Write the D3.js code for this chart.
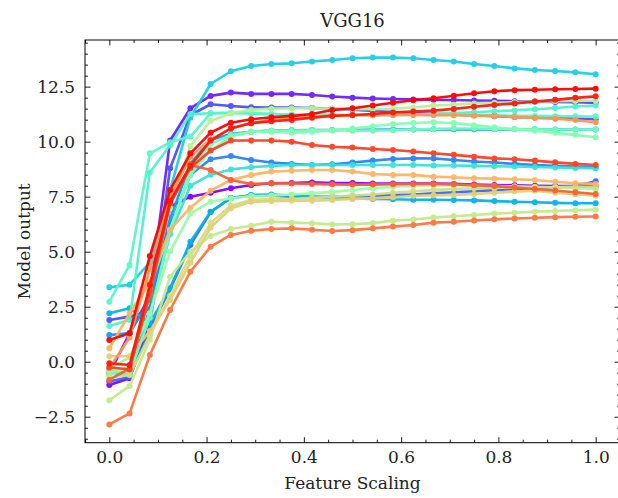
<!DOCTYPE html>
<html><head><meta charset="utf-8">
<script src="https://cdn.jsdelivr.net/npm/d3@7"></script>
<style>
body{margin:0;background:#fff;}
svg text{font-family:"DejaVu Serif","Liberation Serif","Times New Roman",serif;fill:#222;}
</style>
</head><body>
<svg id="chart" width="618" height="498"></svg>
<script>
// ---------------- data ----------------
const featureScaling = [0, 0.0417, 0.0833, 0.125, 0.1667, 0.2083, 0.25, 0.2917, 0.3333, 0.375, 0.4167, 0.4583, 0.5, 0.5417, 0.5833, 0.625, 0.6667, 0.7083, 0.75, 0.7917, 0.8333, 0.875, 0.9167, 0.9583, 1.0];

const purpleLower   = [-1.06, -0.75, 1.8, 7.05, 7.5, 7.68, 7.88, 8.03, 8.11, 8.12, 8.15, 8.12, 8.12, 8.1, 8.1, 8.1, 8.1, 8.08, 8.05, 8.03, 8.02, 8.0, 7.98, 7.98, 7.97];
const purpleTop     = [-0.55, 1.3, 3.0, 10.05, 11.52, 12.08, 12.23, 12.17, 12.17, 12.17, 12.12, 12.05, 12.0, 11.96, 11.94, 11.92, 11.9, 11.89, 11.87, 11.86, 11.84, 11.82, 11.8, 11.79, 11.77];
const bluePurple    = [1.9, 2.05, 2.3, 8.79, 11.2, 11.7, 11.62, 11.56, 11.55, 11.55, 11.53, 11.5, 11.45, 11.4, 11.35, 11.3, 11.27, 11.24, 11.2, 11.16, 11.12, 11.1, 11.07, 11.05, 11.02];
const blueLower     = [-0.9, -0.7, 1.5, 3.3, 5.3, 6.8, 7.45, 7.55, 7.55, 7.5, 7.5, 7.5, 7.52, 7.55, 7.58, 7.6, 7.65, 7.7, 7.75, 7.8, 7.85, 7.88, 7.93, 7.98, 8.2];
const azure         = [-0.4, -0.55, 2.4, 6.2, 8.5, 9.2, 9.35, 9.17, 9.05, 8.99, 8.94, 8.97, 9.05, 9.14, 9.21, 9.24, 9.24, 9.17, 9.1, 9.05, 8.99, 8.94, 8.9, 8.87, 8.82];
const blueMid       = [1.21, 1.3, 2.8, 6.5, 9.0, 10.08, 10.35, 10.45, 10.5, 10.52, 10.53, 10.53, 10.54, 10.54, 10.55, 10.55, 10.56, 10.56, 10.56, 10.56, 10.56, 10.56, 10.55, 10.55, 10.55];
const skyBlue       = [2.2, 2.43, 1.75, 3.35, 5.45, 6.82, 7.43, 7.58, 7.6, 7.55, 7.5, 7.45, 7.42, 7.4, 7.38, 7.36, 7.36, 7.35, 7.33, 7.3, 7.27, 7.25, 7.22, 7.2, 7.2];
const cyanTop       = [3.38, 3.5, 4.5, 7.8, 11.1, 12.62, 13.2, 13.44, 13.53, 13.56, 13.64, 13.71, 13.79, 13.82, 13.82, 13.79, 13.71, 13.64, 13.53, 13.44, 13.33, 13.26, 13.21, 13.15, 13.06];
const turquoiseC    = [-0.5, -0.6, 2.2, 5.8, 8.0, 8.5, 8.74, 8.84, 8.9, 8.94, 8.94, 8.94, 8.94, 8.94, 8.94, 8.94, 8.92, 8.92, 8.9, 8.88, 8.87, 8.85, 8.83, 8.8, 8.79];
const turquoiseB    = [1.62, 1.9, 8.6, 9.85, 11.25, 11.29, 11.3, 11.28, 11.25, 11.22, 11.21, 11.21, 11.2, 11.2, 11.21, 11.23, 11.26, 11.3, 11.34, 11.38, 11.42, 11.47, 11.53, 11.6, 11.64];
const turquoiseA    = [2.73, 4.4, 9.47, 9.97, 10.23, 11.29, 11.32, 11.3, 11.25, 11.22, 11.2, 11.2, 11.2, 11.21, 11.21, 11.22, 11.22, 11.23, 11.21, 11.2, 11.18, 11.17, 11.16, 11.15, 11.14];
const mintB         = [-0.45, -0.5, 2.0, 6.0, 8.7, 9.9, 10.3, 10.45, 10.5, 10.5, 10.52, 10.52, 10.5, 10.5, 10.52, 10.55, 10.58, 10.6, 10.6, 10.58, 10.57, 10.56, 10.55, 10.55, 10.55];
const mintA         = [-0.6, -0.2, 3.4, 6.0, 8.5, 9.6, 10.23, 10.45, 10.45, 10.4, 10.45, 10.5, 10.6, 10.7, 10.8, 10.85, 10.88, 10.85, 10.75, 10.65, 10.56, 10.5, 10.4, 10.31, 10.2];
const lightGreenMid = [-0.3, 0.2, 2.2, 5.0, 6.74, 7.27, 7.43, 7.53, 7.55, 7.6, 7.65, 7.72, 7.8, 7.88, 7.95, 8.0, 8.02, 8.02, 8.0, 7.98, 7.97, 7.95, 7.92, 7.88, 7.85];
const lightGreenTop = [-0.4, -0.3, 3.2, 7.0, 9.8, 10.95, 11.29, 11.45, 11.5, 11.52, 11.52, 11.5, 11.47, 11.48, 11.5, 11.55, 11.64, 11.68, 11.74, 11.77, 11.8, 11.82, 11.84, 11.85, 11.86];
const yellowGreen   = [-1.75, -1.1, 1.0, 3.86, 5.0, 5.71, 6.03, 6.18, 6.36, 6.32, 6.29, 6.24, 6.25, 6.3, 6.41, 6.46, 6.55, 6.61, 6.67, 6.73, 6.77, 6.82, 6.85, 6.88, 6.91];
const khakiB        = [-0.7, -0.6, 1.2, 3.0, 4.8, 6.3, 7.1, 7.35, 7.38, 7.4, 7.45, 7.5, 7.55, 7.6, 7.68, 7.75, 7.8, 7.85, 7.88, 7.9, 7.92, 7.93, 7.94, 7.95, 7.95];
const khakiA        = [0.25, 0.25, 1.4, 2.8, 4.5, 6.1, 6.97, 7.27, 7.3, 7.32, 7.32, 7.35, 7.4, 7.42, 7.47, 7.54, 7.56, 7.58, 7.62, 7.68, 7.73, 7.77, 7.68, 7.61, 7.54];
const lightOrange   = [0.61, 2.2, 3.6, 6.0, 7.0, 7.77, 8.26, 8.49, 8.64, 8.68, 8.71, 8.71, 8.64, 8.53, 8.49, 8.49, 8.41, 8.38, 8.34, 8.32, 8.29, 8.26, 8.18, 8.11, 8.08];
const orangeUpper   = [-0.3, 1.1, 4.2, 7.5, 9.3, 10.1, 10.6, 10.85, 11.0, 11.1, 11.15, 11.18, 11.2, 11.2, 11.21, 11.21, 11.2, 11.2, 11.18, 11.17, 11.12, 11.08, 11.04, 10.98, 10.88];
const orangeLowest  = [-2.85, -2.35, 0.3, 2.35, 4.09, 5.23, 5.76, 5.95, 6.03, 6.06, 6.0, 5.94, 5.98, 6.06, 6.14, 6.21, 6.32, 6.36, 6.42, 6.47, 6.51, 6.54, 6.57, 6.59, 6.6];
const redOrangeB    = [-0.83, -0.3, 3.0, 7.2, 8.94, 8.71, 8.26, 8.08, 8.11, 8.1, 8.08, 8.06, 8.05, 8.05, 8.07, 8.08, 8.08, 8.06, 8.02, 7.98, 7.92, 7.85, 7.78, 7.7, 7.62];
const redOrangeA    = [-0.25, -0.35, 3.2, 7.2, 8.8, 9.6, 10.05, 10.05, 10.05, 10.0, 9.85, 9.77, 9.73, 9.67, 9.62, 9.55, 9.47, 9.4, 9.32, 9.24, 9.2, 9.14, 9.06, 8.99, 8.94];
const redB          = [-0.07, -0.15, 3.5, 7.3, 8.9, 10.05, 10.61, 10.84, 10.93, 10.99, 11.09, 11.17, 11.21, 11.26, 11.33, 11.37, 11.41, 11.49, 11.59, 11.67, 11.74, 11.82, 11.9, 11.99, 12.06];
const redTop        = [0.99, 1.29, 4.8, 7.8, 9.47, 10.41, 10.86, 11.02, 11.11, 11.17, 11.26, 11.44, 11.52, 11.64, 11.77, 11.88, 11.97, 12.09, 12.2, 12.29, 12.34, 12.36, 12.38, 12.39, 12.41];

const seriesValues = [purpleLower, purpleTop, bluePurple, blueLower, azure, blueMid, skyBlue, cyanTop,
  turquoiseC, turquoiseB, turquoiseA, mintB, mintA, lightGreenMid, lightGreenTop, yellowGreen, khakiB, khakiA,
  lightOrange, orangeUpper, orangeLowest, redOrangeB, redOrangeA, redB, redTop];

// position of each series on the rainbow colormap (style)
const colorPos = [0.0, 0.04, 0.1, 0.13, 0.17, 0.2, 0.25, 0.3,
  0.35, 0.4, 0.42, 0.47, 0.5, 0.55, 0.6, 0.63, 0.66, 0.7,
  0.75, 0.8, 0.85, 0.88, 0.92, 0.97, 1.0];

const xTickValues = [0, 0.2, 0.4, 0.6, 0.8, 1.0];
const yTickValues = [-2.5, 0, 2.5, 5, 7.5, 10, 12.5];
const xMinorTicks = [-0.05, 0.05, 0.1, 0.15, 0.25, 0.3, 0.35, 0.45, 0.5, 0.55, 0.65, 0.7, 0.75, 0.85, 0.9, 0.95, 1.05];
const yMinorTicks = [-3.5, -3, -2, -1.5, -1, -0.5, 0.5, 1, 1.5, 2, 3, 3.5, 4, 4.5, 5.5, 6, 6.5, 7, 8, 8.5, 9, 9.5, 10.5, 11, 11.5, 12, 13, 13.5, 14, 14.5];

// ---------------- drawing ----------------
const FONT = '"DejaVu Serif","Liberation Serif","Times New Roman",serif';
function rainbow(t) {
  const r = Math.min(1, Math.abs(2 * t - 0.5));
  const g = Math.sin(Math.PI * t);
  const b = Math.cos(Math.PI * t / 2);
  return d3.rgb(r * 255, g * 255, b * 255).formatHex();
}

const svg = d3.select("#chart");
const L = 85, R = 620, T = 40, B = 442.7;
const x = d3.scaleLinear().domain([-0.05, 1.05]).range([L, R]);
const y = d3.scaleLinear().domain([-3.68, 14.62]).range([B, T]);

const plot = svg.append("g");
const line = d3.line().x((d, i) => x(featureScaling[i])).y(d => y(d));

seriesValues.forEach((vals, k) => {
  const col = rainbow(colorPos[k]);
  const g = plot.append("g").attr("opacity", 0.95);
  g.append("path").datum(vals).attr("d", line)
    .attr("fill", "none").attr("stroke", col).attr("stroke-width", 2.6)
    .attr("stroke-linejoin", "round");
  g.selectAll("circle").data(vals).join("circle")
    .attr("cx", (d, i) => x(featureScaling[i])).attr("cy", d => y(d))
    .attr("r", 3.0).attr("fill", col);
});

// frame
svg.append("rect").attr("x", L).attr("y", T).attr("width", R - L).attr("height", B - T)
  .attr("fill", "none").attr("stroke", "#000").attr("stroke-width", 1);

function styleAxis(g) {
  g.select(".domain").remove();
  g.selectAll(".tick line").attr("stroke", "#000").attr("stroke-width", 0.9);
  g.selectAll("text").attr("font-size", 17).attr("fill", "#222")
    .style("font-family", FONT);
}
const fmt1 = d3.format(".1f");
const fmtY = v => (v < 0 ? "\u2212" + d3.format(".1f")(-v) : d3.format(".1f")(v));

// major
svg.append("g").attr("transform", `translate(0,${B})`)
  .call(d3.axisBottom(x).tickValues(xTickValues).tickFormat(fmt1).tickSize(-5.5).tickPadding(8)).call(styleAxis);
svg.append("g").attr("transform", `translate(0,${T})`)
  .call(d3.axisTop(x).tickValues(xTickValues).tickFormat("").tickSize(-5.5)).call(styleAxis);
svg.append("g").attr("transform", `translate(${L},0)`)
  .call(d3.axisLeft(y).tickValues(yTickValues).tickFormat(fmtY).tickSize(-5.5).tickPadding(10)).call(styleAxis);
svg.append("g").attr("transform", `translate(${R},0)`)
  .call(d3.axisRight(y).tickValues(yTickValues).tickFormat("").tickSize(-5.5)).call(styleAxis);
// minor
svg.append("g").attr("transform", `translate(0,${B})`)
  .call(d3.axisBottom(x).tickValues(xMinorTicks).tickFormat("").tickSize(-3)).call(styleAxis);
svg.append("g").attr("transform", `translate(0,${T})`)
  .call(d3.axisTop(x).tickValues(xMinorTicks).tickFormat("").tickSize(-3)).call(styleAxis);
svg.append("g").attr("transform", `translate(${L},0)`)
  .call(d3.axisLeft(y).tickValues(yMinorTicks).tickFormat("").tickSize(-3)).call(styleAxis);
svg.append("g").attr("transform", `translate(${R},0)`)
  .call(d3.axisRight(y).tickValues(yMinorTicks).tickFormat("").tickSize(-3)).call(styleAxis);

// labels
svg.append("text").attr("x", (L + R) / 2).attr("y", 27).attr("text-anchor", "middle")
  .style("font-family", FONT).attr("font-size", 18).text("VGG16");
svg.append("text").attr("x", (L + R) / 2).attr("y", 489).attr("text-anchor", "middle")
  .style("font-family", FONT).attr("font-size", 17).text("Feature Scaling");
svg.append("text").attr("transform", `translate(30,${(T + B) / 2}) rotate(-90)`)
  .style("font-family", FONT).attr("text-anchor", "middle").attr("font-size", 17).text("Model output");
</script>
</body></html>
